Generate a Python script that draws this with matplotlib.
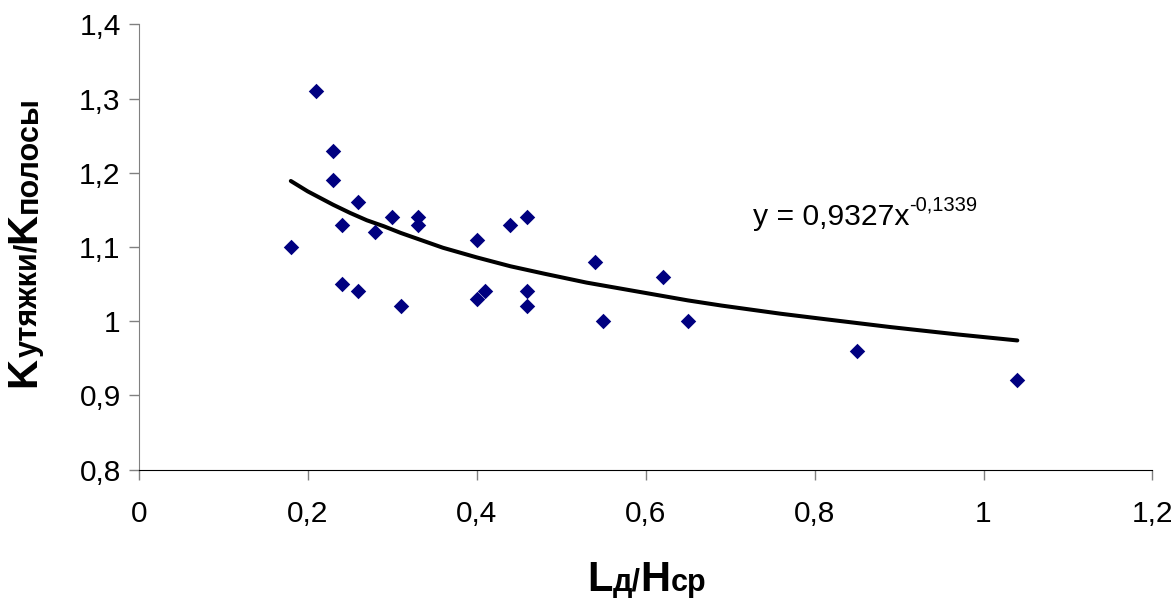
import matplotlib.pyplot as plt
from matplotlib.ticker import FuncFormatter, MultipleLocator
from matplotlib.transforms import offset_copy

plt.rcParams['font.family'] = ['Liberation Sans', 'DejaVu Sans']

# measured points
x = [0.21, 0.23, 0.23, 0.26, 0.24, 0.18, 0.30, 0.33, 0.33, 0.28, 0.40, 0.44, 0.46,
     0.24, 0.26, 0.31, 0.40, 0.41, 0.46, 0.46, 0.54, 0.55, 0.62, 0.65, 0.85, 1.04]
y = [1.31, 1.23, 1.19, 1.16, 1.13, 1.10, 1.14, 1.14, 1.13, 1.12, 1.11, 1.13, 1.14,
     1.05, 1.04, 1.02, 1.03, 1.04, 1.04, 1.02, 1.08, 1.00, 1.06, 1.00, 0.96, 0.92]

# power trendline as drawn
trend_x = [0.18, 0.20, 0.21, 0.23, 0.25, 0.27, 0.29, 0.31, 0.33, 0.36, 0.40, 0.44,
           0.48, 0.53, 0.57, 0.61, 0.65, 0.69, 0.76, 0.81, 0.89, 0.97, 1.04]
trend_y = [1.189, 1.175, 1.169, 1.157, 1.146, 1.136, 1.128, 1.119, 1.111, 1.099, 1.086,
           1.074, 1.064, 1.052, 1.044, 1.036, 1.028, 1.021, 1.010, 1.003, 0.992, 0.982,
           0.974]
eq_text = 'y = 0,9327x'
eq_pow = '-0,1339'

fig = plt.figure(figsize=(11.76, 6), dpi=100)
ax = fig.add_axes([0.118, 0.2175, 0.862, 0.7417])

ax.scatter(x, y, marker='D', s=62, color='#000080', zorder=3, linewidths=0)
ax.plot(trend_x, trend_y, color='black', lw=2.9, zorder=2, solid_capstyle='round')

ax.set_xlim(0, 1.2)
ax.set_ylim(0.8, 1.4)
ax.xaxis.set_major_locator(MultipleLocator(0.2))
ax.yaxis.set_major_locator(MultipleLocator(0.1))
fmt = FuncFormatter(lambda v, p: ('%g' % round(v, 2)).replace('.', ','))
ax.xaxis.set_major_formatter(fmt)
ax.yaxis.set_major_formatter(fmt)

for s in ['top', 'right']:
    ax.spines[s].set_visible(False)
ax.spines['left'].set_color('#808080')
ax.spines['bottom'].set_color('black')
ax.tick_params(axis='y', direction='out', length=7, width=1, color='#808080',
               labelsize=21.5, pad=6)
ax.tick_params(axis='x', direction='out', length=7, width=1, color='#808080',
               labelsize=21.5, pad=15)

renderer = fig.canvas.get_renderer()


def chain(parts, x0, y0, transform, rotation=0, **kw):
    # draw text pieces one after another
    tr = transform
    for txt, size, dy in parts:
        if rotation == 0:
            t_tr = offset_copy(tr, fig=fig, x=0, y=dy, units='points')
        else:
            t_tr = offset_copy(tr, fig=fig, x=-dy, y=0, units='points')
        t = fig.text(x0, y0, txt, fontsize=size, transform=t_tr, rotation=rotation, **kw)
        bb = t.get_window_extent(renderer)
        if rotation == 0:
            tr = offset_copy(tr, fig=fig, x=bb.width, y=0, units='dots')
        else:
            tr = offset_copy(tr, fig=fig, x=0, y=bb.height, units='dots')


# equation label
chain([(eq_text, 21.7, 0), (eq_pow, 14.5, 10)], 0.727, 1.13, ax.transData,
      va='baseline', ha='left')

# x axis label
chain([('L', 30, 0), ('д/', 22, 0), ('H', 30, 0), ('ср', 22, 0)], 587 / 1176, 9 / 600,
      fig.transFigure, va='baseline', ha='left', fontweight='bold')

# y axis label
chain([('K', 30, 0), ('утяжки/', 22, 0), ('K', 30, 0), ('полосы', 22, 0)], 44 / 1176, 213 / 600,
      fig.transFigure, rotation=90, va='bottom', ha='right', fontweight='bold')

fig.savefig('out.png', dpi=100)
